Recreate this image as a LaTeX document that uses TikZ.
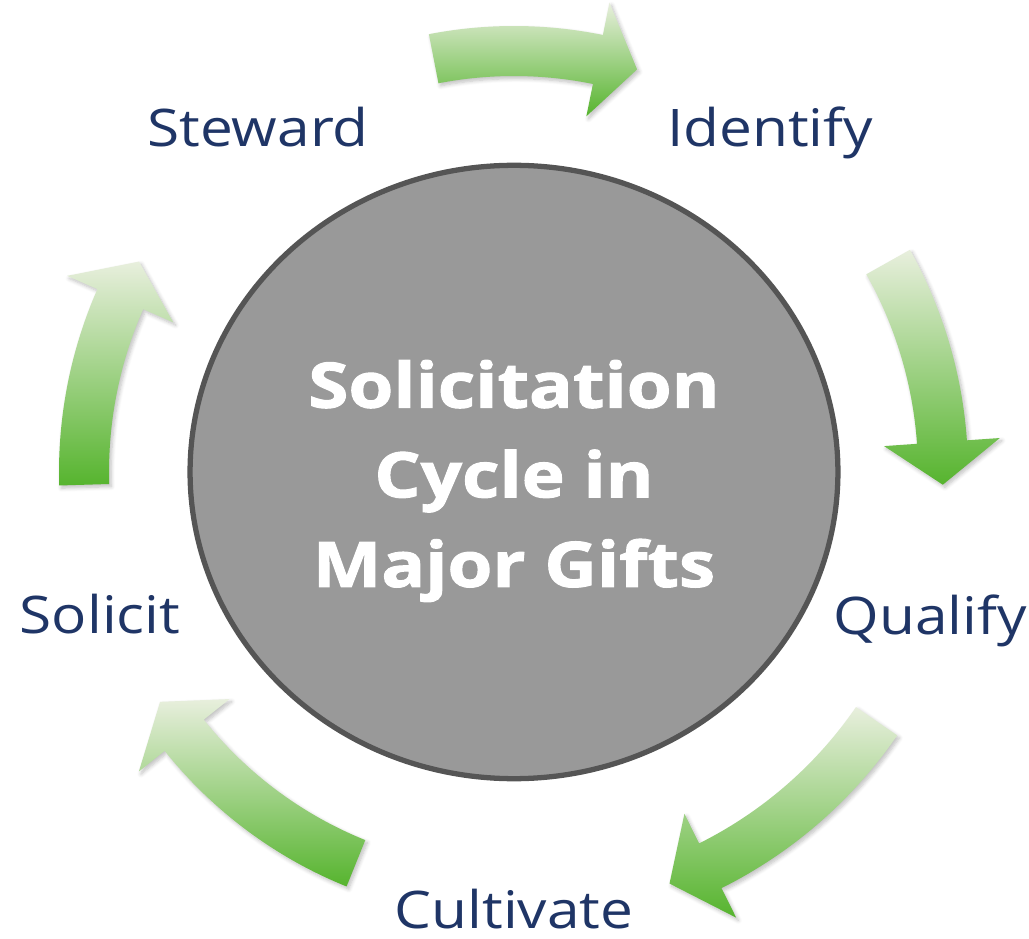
\documentclass[tikz,border=0pt]{standalone}
\usepackage{fontspec}
\setmainfont{Open Sans}
\newfontfamily\labelfont{Open Sans}[FakeStretch=1.13]
\newfontfamily\hubfont{Open Sans}[FakeStretch=1.16, FakeBold=1.6]
\usetikzlibrary{shapes.geometric,shadows.blur}

\definecolor{stagenavy}{RGB}{31,53,102}
\definecolor{hubgray}{RGB}{153,153,153}
\definecolor{hubrim}{RGB}{85,85,85}
\definecolor{leafpale}{RGB}{232,239,221}
\definecolor{leafgreen}{RGB}{86,180,46}

% curved block arrow round the hub: start angle, head angle, tip angle, radius
\newcommand{\cyclearrow}[4]{%
  \path[cyclearrowstyle] (#1:#4+25) arc[start angle=#1, end angle=#2, radius=#4+25]
    -- (#2:#4+58) -- (#3:#4) -- (#2:#4-58) -- (#2:#4-25)
    arc[start angle=#2, end angle=#1, radius=#4-25] -- cycle;}

\begin{document}
\begin{tikzpicture}[x=0.02cm,y=0.02cm,
    cyclearrowstyle/.style={top color=leafpale, bottom color=leafgreen,
      blur shadow={shadow xshift=1.2pt, shadow yshift=-1.5pt, shadow blur steps=6, shadow opacity=25}},
    hub/.style={ellipse, draw=hubrim, line width=3pt, fill=hubgray,
      minimum width=12.96cm, minimum height=12.27cm, inner sep=0pt},
    hubtext/.style={text=white, align=center, inner sep=0pt,
      font=\hubfont\bfseries\fontsize{35.7}{51}\selectfont},
    stage/.style={text=stagenavy, anchor=base, inner sep=0pt,
      font=\labelfont\fontsize{29.5}{35}\selectfont}]
    \useasboundingbox (0,0) rectangle (1029,-939);

    \node[hub] (hub) at (514,-472) {};
    \node[hubtext] (title) at (514,-481) {Solicitation\\Cycle in\\Major Gifts};

    \begin{scope}[shift={(hub.center)}]
      \cyclearrow{101}{78.5}{73}{421}
      \cyclearrow{29.3}{4}{-1.7}{429}
      \cyclearrow{-34.5}{-63.5}{-69.3}{440}
      \cyclearrow{248}{218.6}{213}{422}
      \cyclearrow{181.7}{156.3}{150.7}{430}
    \end{scope}

    \node[stage] (steward) at (258,-147) {Steward};
    \node[stage] (identify) at (770,-147) {Identify};
    \node[stage] (qualify) at (930,-635) {Qualify};
    \node[stage] (cultivate) at (514,-928) {Cultivate};
    \node[stage] (solicit) at (100,-633) {Solicit};
\end{tikzpicture}
\end{document}
